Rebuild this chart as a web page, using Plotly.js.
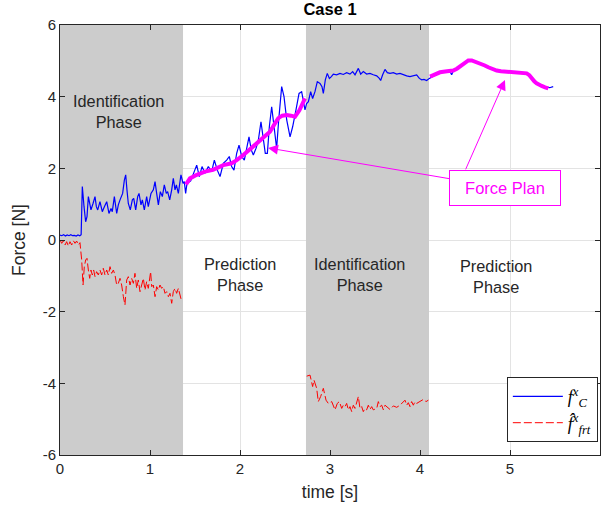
<!DOCTYPE html>
<html>
<head>
<meta charset="utf-8">
<script src="https://cdn.plot.ly/plotly-3.0.1.min.js"></script>
<style>html,body{margin:0;padding:0;background:#fff;}#chart{width:603px;height:510px;}</style>
</head>
<body>
<div id="chart"></div>
<script>
// ---- data ----
var blueT = [0,0.02,0.04,0.06,0.08,0.10,0.12,0.14,0.16,0.18,0.20,0.22,0.235,
  0.248,0.267,0.285,0.300,0.315,0.330,0.344,0.367,0.389,0.404,0.419,0.444,0.470,0.493,0.519,0.544,0.567,0.581,0.604,0.630,0.648,0.667,0.696,0.715,0.730,0.744,0.759,0.781,0.804,0.819,0.841,0.863,0.878,0.900,0.915,0.937,0.963,0.981,1.011,1.037,1.056,1.074,1.093,1.115,1.137,1.159,1.181,1.196,1.219,1.241,1.259,1.278,1.293,1.315,1.333,1.344,1.367,1.381,1.396,1.411,1.452,
  1.481,1.519,1.548,1.578,1.611,1.648,1.685,1.715,1.748,1.778,1.815,1.852,1.881,1.907,1.933,1.963,1.989,2.019,2.048,2.074,2.100,2.126,2.148,2.178,2.204,2.233,2.259,2.281,2.304,2.326,2.352,2.378,2.407,2.430,2.463,2.489,2.519,2.556,2.585,2.622,2.656,2.685,2.722,
  2.740,2.760,2.785,2.807,2.833,2.859,2.889,2.911,2.926,2.948,2.970,2.993,3.015,3.037,3.074,3.111,3.148,3.185,3.222,3.252,3.278,3.315,3.341,3.370,3.407,3.444,3.481,3.519,3.548,3.563,3.585,3.611,3.637,3.667,3.704,3.741,3.778,3.815,3.852,3.889,3.926,3.963,3.993,4.019,4.044,4.074,4.104,
  4.13,4.17,4.22,4.28,4.33,4.352,4.37,4.41,4.45,4.50,4.54,4.58,4.62,4.66,4.70,4.74,4.78,4.82,4.86,4.92,4.97,5.02,5.06,5.10,5.15,5.19,5.23,5.27,5.31,5.35,5.40,5.44,5.48];
var blueF = [0.14,0.12,0.15,0.11,0.14,0.12,0.15,0.12,0.13,0.11,0.14,0.12,0.15,
  1.49,0.93,0.51,0.65,1.21,1.02,0.84,1.02,1.21,0.93,0.84,1.07,0.79,0.93,1.07,0.74,0.88,0.79,1.21,0.74,0.98,1.12,1.30,1.67,1.82,1.40,1.02,0.84,1.12,1.16,0.84,1.21,1.30,0.98,1.12,0.84,1.21,0.93,1.30,1.40,1.63,1.30,0.98,1.35,1.21,1.54,1.30,1.35,1.12,1.40,1.72,1.40,1.54,1.30,1.63,1.82,1.58,1.63,1.30,1.58,1.65,
  1.86,2.09,1.77,2.05,1.86,2.05,1.91,2.23,1.95,1.77,2.14,2.23,2.33,2.05,1.95,2.42,2.65,2.33,2.23,2.60,2.88,2.51,2.37,2.56,2.79,3.30,2.79,2.42,2.42,3.16,3.72,3.16,2.56,3.35,4.28,4.00,3.35,2.88,3.16,3.63,4.09,4.14,3.63,
  3.81,3.86,4.14,3.95,4.14,4.42,4.37,4.28,4.09,4.47,4.65,4.51,4.56,4.63,4.61,4.65,4.62,4.67,4.63,4.70,4.61,4.79,4.63,4.70,4.63,4.65,4.61,4.58,4.51,4.45,4.61,4.76,4.67,4.65,4.67,4.63,4.65,4.61,4.58,4.56,4.58,4.61,4.51,4.47,4.48,4.45,4.51,
  4.55,4.60,4.68,4.70,4.72,4.61,4.72,4.78,4.85,4.95,5.01,5.00,4.97,4.93,4.88,4.83,4.79,4.75,4.73,4.71,4.70,4.68,4.70,4.66,4.67,4.64,4.54,4.42,4.34,4.30,4.27,4.25,4.28];

var redT1 = [0,0.019,0.037,0.056,0.074,0.093,0.111,0.130,0.148,0.167,0.185,0.204,0.222,0.241,0.256,0.270,0.285,0.300,0.315,0.330,0.344,0.359,0.374,0.389,0.407,0.426,0.444,0.463,0.481,0.500,0.519,0.537,0.556,0.574,0.593,0.611,0.630,0.648,0.667,0.685,0.704,0.722,0.741,0.759,0.778,0.796,0.815,0.833,0.852,0.870,0.889,0.907,0.926,0.944,0.963,0.981,1.007,1.019,1.037,1.056,1.074,1.093,1.111,1.130,1.148,1.167,1.185,1.204,1.222,1.241,1.259,1.278,1.296,1.315,1.333,1.352];
var redF1 = [0.0,-0.093,-0.019,-0.14,-0.047,-0.167,-0.047,-0.14,-0.019,-0.093,-0.028,-0.14,-0.074,-0.558,-1.256,-0.744,-0.558,-0.512,-0.837,-1.07,-0.837,-0.977,-0.837,-1.023,-0.884,-0.977,-0.837,-0.977,-0.79,-0.977,-0.837,-0.977,-0.744,-0.93,-0.837,-0.977,-1.256,-1.209,-1.07,-1.256,-1.581,-1.814,-1.116,-1.023,-1.256,-1.07,-1.209,-0.93,-1.349,-1.116,-1.442,-1.209,-1.07,-1.395,-1.163,-1.349,-0.884,-1.302,-1.256,-1.581,-1.302,-1.395,-1.256,-1.349,-1.302,-1.488,-1.442,-1.581,-1.488,-1.767,-1.442,-1.349,-1.488,-1.349,-1.581,-1.721];
var redT2 = [2.741,2.778,2.807,2.822,2.852,2.870,2.896,2.926,2.956,2.981,3.019,3.037,3.056,3.081,3.104,3.130,3.148,3.167,3.185,3.204,3.222,3.241,3.259,3.278,3.296,3.315,3.333,3.352,3.370,3.389,3.407,3.426,3.444,3.463,3.481,3.519,3.537,3.556,3.574,3.593,3.611,3.630,3.667,3.704,3.741,3.778,3.815,3.833,3.852,3.870,3.889,3.907,3.926,3.944,3.963,4.000,4.037,4.067,4.093];
var redF2 = [-3.80,-3.77,-4.09,-3.91,-4.14,-4.51,-4.37,-4.14,-4.47,-4.56,-4.51,-4.61,-4.74,-4.56,-4.51,-4.70,-4.61,-4.65,-4.56,-4.74,-4.65,-4.79,-4.61,-4.70,-4.56,-4.37,-4.70,-4.65,-4.79,-4.70,-4.74,-4.61,-4.73,-4.65,-4.74,-4.70,-4.51,-4.65,-4.61,-4.74,-4.61,-4.65,-4.73,-4.63,-4.67,-4.61,-4.51,-4.47,-4.61,-4.54,-4.65,-4.51,-4.61,-4.51,-4.56,-4.51,-4.45,-4.51,-4.47];

var planT1 = [1.40,1.444,1.52,1.611,1.70,1.815,1.907,1.96,2.037,2.11,2.185,2.26,2.333,2.38,2.426,2.47,2.519,2.565,2.611,2.66,2.722];
var planF1 = [1.55,1.72,1.82,1.91,1.96,2.09,2.14,2.22,2.37,2.53,2.70,2.85,3.02,3.22,3.40,3.47,3.49,3.47,3.44,3.62,3.95];
var planT2 = [4.111,4.18,4.222,4.30,4.37,4.41,4.444,4.49,4.537,4.575,4.611,4.65,4.685,4.72,4.759,4.80,4.852,4.90,4.963,5.02,5.074,5.13,5.185,5.215,5.24,5.27,5.296,5.325,5.352,5.39,5.426];
var planF2 = [4.56,4.64,4.68,4.71,4.73,4.78,4.84,4.93,5.01,5.01,4.98,4.95,4.91,4.87,4.82,4.77,4.73,4.71,4.70,4.69,4.68,4.67,4.65,4.60,4.51,4.43,4.37,4.32,4.30,4.26,4.23];

// identification phases (start, end) in seconds
var idPhases = [[0, 1.367], [2.733, 4.1]];
var xTicks = [0,1,2,3,4,5,6];
var xTickText = ['0','1','2','3','4','5','6'];
var yTicks = [-6,-4,-2,0,2,4,6];
var yTickText = ['-6','-4','-2','0','2','4','6'];
var phaseLabels = [
  {t: 0.65, f: 3.6, text: 'Identification<br>Phase'},
  {t: 2.0, f: -0.96, text: 'Prediction<br>Phase'},
  {t: 3.33, f: -0.95, text: 'Identification<br>Phase'},
  {t: 4.84, f: -1.03, text: 'Prediction<br>Phase'}
];
// Force Plan callout: label position and the two plan points it points at
var planLabel = {t: 4.94, f: 1.45};
var planTargets = [{t: 2.311, f: 2.57}, {t: 4.944, f: 4.466}];
var planTail2 = {t: 4.50, f: 1.93};

// ---- traces ----
var traces = [
  {x: blueT, y: blueF, type: 'scatter', mode: 'lines',
   name: '<i>f</i><sup><i>x</i></sup><sub><i>C</i></sub>',
   line: {color: '#0000ff', width: 1.2}},
  {x: redT1.concat([null], redT2), y: redF1.concat([null], redF2), type: 'scatter', mode: 'lines',
   name: '<i>f\u0302</i><sup><i>x</i></sup><sub><i>frt</i></sub>', connectgaps: false,
   line: {color: '#ff0000', width: 1, dash: '8px,3px'}},
  {x: planT1.concat([null], planT2), y: planF1.concat([null], planF2), type: 'scatter', mode: 'lines',
   showlegend: false, connectgaps: false, line: {color: '#ff00ff', width: 4}}
];

var shapes = idPhases.map(function (p) {
  return {type: 'rect', xref: 'x', yref: 'y', x0: p[0], x1: p[1], y0: -6, y1: 6,
          fillcolor: '#cccccc', line: {width: 0}, layer: 'between'};
});

var annotations = phaseLabels.map(function (l) {
  return {x: l.t, y: l.f, xref: 'x', yref: 'y', text: l.text, showarrow: false,
          font: {family: 'Liberation Sans, Arial, sans-serif', size: 16.3, color: '#262626'}};
});
annotations.push({
  x: planTargets[0].t, y: planTargets[0].f, xref: 'x', yref: 'y',
  ax: planLabel.t, ay: planLabel.f, axref: 'x', ayref: 'y',
  text: 'Force Plan', showarrow: true, arrowhead: 2, arrowsize: 2, arrowwidth: 1,
  arrowcolor: '#ff00ff', standoff: 0,
  font: {family: 'Liberation Sans, Arial, sans-serif', size: 16.5, color: '#ff00ff'},
  bgcolor: '#ffffff', bordercolor: '#ff00ff', borderwidth: 1, borderpad: 3,
  width: 104, height: 28
});
annotations.push({
  x: planTargets[1].t, y: planTargets[1].f, xref: 'x', yref: 'y',
  ax: planTail2.t, ay: planTail2.f, axref: 'x', ayref: 'y',
  text: '', showarrow: true, arrowhead: 2, arrowsize: 2, arrowwidth: 1,
  arrowcolor: '#ff00ff', standoff: 0
});

var axisCommon = {
  showline: true, linecolor: '#262626', linewidth: 1, mirror: 'ticks',
  ticks: 'inside', ticklen: 5, tickcolor: '#262626',
  showgrid: true, gridcolor: '#e3e3e3', gridwidth: 1, zeroline: false,
  tickfont: {family: 'Liberation Sans, Arial, sans-serif', size: 15, color: '#262626'}
};

var layout = {
  width: 603, height: 510,
  margin: {l: 60, r: 3, t: 25, b: 55},
  paper_bgcolor: '#ffffff', plot_bgcolor: '#ffffff',
  showlegend: true,
  title: {text: '<b>Case 1</b>', x: 0.5, xref: 'paper', xanchor: 'center',
          y: 0.981, yref: 'container', yanchor: 'middle',
          font: {family: 'Liberation Sans, Arial, sans-serif', size: 16.5, color: '#000000'}},
  xaxis: Object.assign({}, axisCommon, {
    range: [0, 6], tickvals: xTicks, ticktext: xTickText,
    title: {text: 'time [s]', standoff: 9, font: {family: 'Liberation Sans, Arial, sans-serif', size: 17.5, color: '#262626'}}
  }),
  yaxis: Object.assign({}, axisCommon, {
    range: [-6, 6], tickvals: yTicks, ticktext: yTickText,
    title: {text: 'Force [N]', standoff: 12, font: {family: 'Liberation Sans, Arial, sans-serif', size: 17.5, color: '#262626'}}
  }),
  legend: {x: 0.996, xanchor: 'right', y: 0.03, yanchor: 'bottom',
           bgcolor: '#ffffff', bordercolor: '#262626', borderwidth: 1,
           itemwidth: 50, tracegroupgap: 0,
           font: {family: 'Liberation Serif, Times New Roman, serif', size: 18, color: '#000000'}},
  shapes: shapes,
  annotations: annotations
};

Plotly.newPlot('chart', traces, layout, {displayModeBar: false, staticPlot: true});
</script>
</body>
</html>
